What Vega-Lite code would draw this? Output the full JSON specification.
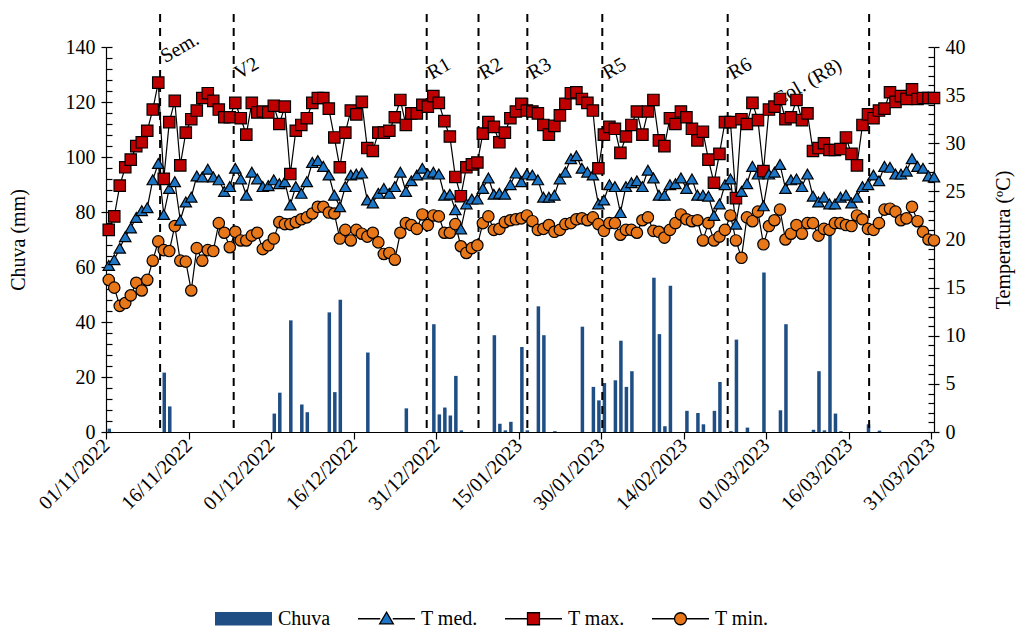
{
  "$schema": "https://vega.github.io/schema/vega-lite/v6.json",
  "width": 828,
  "height": 385,
  "autosize": "none",
  "padding": {"left": 106, "top": 47, "right": 93, "bottom": 199},
  "background": "white",
  "config": {
    "font": "Liberation Serif",
    "view": {"stroke": null},
    "axis": {"labelFont": "Liberation Serif", "titleFont": "Liberation Serif", "labelFontSize": 20, "titleFontSize": 20, "titleFontWeight": "normal", "labelColor": "black", "titleColor": "black", "domainColor": "black", "tickColor": "black", "grid": false, "domainWidth": 1.2, "tickWidth": 1.2},
    "legend": {"labelFont": "Liberation Serif", "labelFontSize": 20, "labelColor": "black"}
  },
  "datasets": {
    "clima": [
      {"d":"2022-11-01","chuva":1.2,"tmed":17.3,"tmax":21.0,"tmin":15.8},
      {"d":"2022-11-02","chuva":0,"tmed":17.9,"tmax":22.4,"tmin":15.0},
      {"d":"2022-11-03","chuva":0,"tmed":19.1,"tmax":25.6,"tmin":13.1},
      {"d":"2022-11-04","chuva":0,"tmed":20.3,"tmax":27.5,"tmin":13.4},
      {"d":"2022-11-05","chuva":0,"tmed":21.2,"tmax":28.3,"tmin":14.2},
      {"d":"2022-11-06","chuva":0,"tmed":22.3,"tmax":29.7,"tmin":15.5},
      {"d":"2022-11-07","chuva":0,"tmed":23.0,"tmax":30.1,"tmin":14.7},
      {"d":"2022-11-08","chuva":0,"tmed":23.3,"tmax":31.3,"tmin":15.8},
      {"d":"2022-11-09","chuva":0,"tmed":26.2,"tmax":33.5,"tmin":17.8},
      {"d":"2022-11-10","chuva":0,"tmed":27.9,"tmax":36.3,"tmin":19.8},
      {"d":"2022-11-11","chuva":21.6,"tmed":22.6,"tmax":26.3,"tmin":18.9},
      {"d":"2022-11-12","chuva":9.3,"tmed":25.3,"tmax":32.2,"tmin":18.8},
      {"d":"2022-11-13","chuva":0,"tmed":26.0,"tmax":34.4,"tmin":21.4},
      {"d":"2022-11-14","chuva":0,"tmed":22.0,"tmax":27.7,"tmin":17.8},
      {"d":"2022-11-15","chuva":0,"tmed":23.9,"tmax":31.1,"tmin":17.7},
      {"d":"2022-11-16","chuva":0,"tmed":24.4,"tmax":32.5,"tmin":14.7},
      {"d":"2022-11-17","chuva":0,"tmed":26.6,"tmax":33.4,"tmin":19.1},
      {"d":"2022-11-18","chuva":0,"tmed":26.5,"tmax":34.7,"tmin":17.8},
      {"d":"2022-11-19","chuva":0,"tmed":27.3,"tmax":35.2,"tmin":18.9},
      {"d":"2022-11-20","chuva":0,"tmed":26.5,"tmax":34.4,"tmin":18.8},
      {"d":"2022-11-21","chuva":0,"tmed":26.2,"tmax":33.5,"tmin":21.7},
      {"d":"2022-11-22","chuva":0,"tmed":25.0,"tmax":32.7,"tmin":20.7},
      {"d":"2022-11-23","chuva":0,"tmed":25.5,"tmax":32.7,"tmin":19.2},
      {"d":"2022-11-24","chuva":0,"tmed":27.4,"tmax":34.2,"tmin":20.8},
      {"d":"2022-11-25","chuva":0,"tmed":26.3,"tmax":32.6,"tmin":19.9},
      {"d":"2022-11-26","chuva":0,"tmed":24.6,"tmax":30.9,"tmin":19.9},
      {"d":"2022-11-27","chuva":0,"tmed":27.0,"tmax":34.2,"tmin":20.4},
      {"d":"2022-11-28","chuva":0,"tmed":26.3,"tmax":33.2,"tmin":20.7},
      {"d":"2022-11-29","chuva":0,"tmed":25.5,"tmax":33.3,"tmin":19.0},
      {"d":"2022-11-30","chuva":0,"tmed":25.6,"tmax":33.2,"tmin":19.4},
      {"d":"2022-12-01","chuva":6.7,"tmed":26.2,"tmax":33.9,"tmin":20.1},
      {"d":"2022-12-02","chuva":14.3,"tmed":25.8,"tmax":32.0,"tmin":21.8},
      {"d":"2022-12-03","chuva":0,"tmed":26.0,"tmax":33.8,"tmin":21.6},
      {"d":"2022-12-04","chuva":40.6,"tmed":23.6,"tmax":26.8,"tmin":21.6},
      {"d":"2022-12-05","chuva":0,"tmed":25.5,"tmax":31.3,"tmin":21.8},
      {"d":"2022-12-06","chuva":10.0,"tmed":24.8,"tmax":31.9,"tmin":22.1},
      {"d":"2022-12-07","chuva":7.2,"tmed":26.0,"tmax":32.6,"tmin":22.3},
      {"d":"2022-12-08","chuva":0,"tmed":28.0,"tmax":34.2,"tmin":22.7},
      {"d":"2022-12-09","chuva":0,"tmed":28.2,"tmax":34.7,"tmin":23.4},
      {"d":"2022-12-10","chuva":0,"tmed":27.6,"tmax":34.7,"tmin":23.4},
      {"d":"2022-12-11","chuva":43.5,"tmed":26.7,"tmax":33.6,"tmin":22.8},
      {"d":"2022-12-12","chuva":14.5,"tmed":24.6,"tmax":30.6,"tmin":22.7},
      {"d":"2022-12-13","chuva":48.1,"tmed":23.4,"tmax":27.5,"tmin":20.1},
      {"d":"2022-12-14","chuva":0,"tmed":25.5,"tmax":31.1,"tmin":21.0},
      {"d":"2022-12-15","chuva":0,"tmed":26.7,"tmax":33.4,"tmin":19.9},
      {"d":"2022-12-16","chuva":0,"tmed":26.8,"tmax":33.0,"tmin":21.0},
      {"d":"2022-12-17","chuva":0,"tmed":26.9,"tmax":34.3,"tmin":20.6},
      {"d":"2022-12-18","chuva":28.9,"tmed":24.1,"tmax":29.5,"tmin":20.3},
      {"d":"2022-12-19","chuva":0,"tmed":23.8,"tmax":29.2,"tmin":20.7},
      {"d":"2022-12-20","chuva":0,"tmed":24.8,"tmax":31.1,"tmin":19.7},
      {"d":"2022-12-21","chuva":0,"tmed":25.3,"tmax":31.1,"tmin":18.5},
      {"d":"2022-12-22","chuva":0,"tmed":24.8,"tmax":31.3,"tmin":18.6},
      {"d":"2022-12-23","chuva":0,"tmed":25.5,"tmax":32.7,"tmin":17.9},
      {"d":"2022-12-24","chuva":0,"tmed":27.0,"tmax":34.5,"tmin":20.7},
      {"d":"2022-12-25","chuva":8.6,"tmed":25.0,"tmax":31.9,"tmin":21.7},
      {"d":"2022-12-26","chuva":0,"tmed":26.1,"tmax":33.1,"tmin":21.5},
      {"d":"2022-12-27","chuva":0,"tmed":26.7,"tmax":33.1,"tmin":21.1},
      {"d":"2022-12-28","chuva":0,"tmed":27.4,"tmax":34.0,"tmin":22.6},
      {"d":"2022-12-29","chuva":0,"tmed":26.8,"tmax":33.8,"tmin":21.5},
      {"d":"2022-12-30","chuva":39.2,"tmed":27.0,"tmax":34.9,"tmin":22.5},
      {"d":"2022-12-31","chuva":6.4,"tmed":26.8,"tmax":34.2,"tmin":22.4},
      {"d":"2023-01-01","chuva":8.9,"tmed":24.6,"tmax":32.3,"tmin":20.7},
      {"d":"2023-01-02","chuva":6.0,"tmed":24.7,"tmax":30.7,"tmin":20.7},
      {"d":"2023-01-03","chuva":20.4,"tmed":23.1,"tmax":26.5,"tmin":21.6},
      {"d":"2023-01-04","chuva":0.6,"tmed":21.1,"tmax":24.5,"tmin":19.3},
      {"d":"2023-01-05","chuva":0,"tmed":23.7,"tmax":27.5,"tmin":18.6},
      {"d":"2023-01-06","chuva":0,"tmed":24.2,"tmax":27.8,"tmin":19.1},
      {"d":"2023-01-07","chuva":0,"tmed":24.2,"tmax":28.0,"tmin":19.4},
      {"d":"2023-01-08","chuva":0,"tmed":25.3,"tmax":31.0,"tmin":21.7},
      {"d":"2023-01-09","chuva":0,"tmed":26.4,"tmax":32.2,"tmin":22.4},
      {"d":"2023-01-10","chuva":35.2,"tmed":24.7,"tmax":31.7,"tmin":21.0},
      {"d":"2023-01-11","chuva":3.0,"tmed":24.8,"tmax":30.1,"tmin":21.1},
      {"d":"2023-01-12","chuva":0.6,"tmed":24.7,"tmax":31.1,"tmin":21.8},
      {"d":"2023-01-13","chuva":3.7,"tmed":25.7,"tmax":32.6,"tmin":22.0},
      {"d":"2023-01-14","chuva":0,"tmed":26.9,"tmax":33.3,"tmin":22.1},
      {"d":"2023-01-15","chuva":30.9,"tmed":26.0,"tmax":34.1,"tmin":22.2},
      {"d":"2023-01-16","chuva":0.6,"tmed":26.8,"tmax":33.4,"tmin":22.5},
      {"d":"2023-01-17","chuva":0,"tmed":26.7,"tmax":33.3,"tmin":21.9},
      {"d":"2023-01-18","chuva":45.7,"tmed":26.2,"tmax":33.1,"tmin":21.0},
      {"d":"2023-01-19","chuva":35.2,"tmed":24.4,"tmax":31.9,"tmin":21.1},
      {"d":"2023-01-20","chuva":0,"tmed":24.4,"tmax":30.9,"tmin":21.5},
      {"d":"2023-01-21","chuva":0.3,"tmed":24.6,"tmax":31.8,"tmin":20.8},
      {"d":"2023-01-22","chuva":0,"tmed":26.3,"tmax":32.9,"tmin":21.0},
      {"d":"2023-01-23","chuva":0,"tmed":27.0,"tmax":34.1,"tmin":21.6},
      {"d":"2023-01-24","chuva":0,"tmed":28.4,"tmax":35.2,"tmin":21.7},
      {"d":"2023-01-25","chuva":0,"tmed":28.7,"tmax":35.3,"tmin":22.1},
      {"d":"2023-01-26","chuva":38.3,"tmed":27.4,"tmax":34.6,"tmin":22.2},
      {"d":"2023-01-27","chuva":0,"tmed":27.0,"tmax":34.2,"tmin":22.0},
      {"d":"2023-01-28","chuva":16.4,"tmed":26.7,"tmax":33.4,"tmin":22.3},
      {"d":"2023-01-29","chuva":11.5,"tmed":23.7,"tmax":27.4,"tmin":21.6},
      {"d":"2023-01-30","chuva":17.8,"tmed":24.1,"tmax":30.9,"tmin":20.9},
      {"d":"2023-01-31","chuva":0,"tmed":25.7,"tmax":31.7,"tmin":21.7},
      {"d":"2023-02-01","chuva":18.8,"tmed":25.5,"tmax":31.5,"tmin":21.7},
      {"d":"2023-02-02","chuva":33.2,"tmed":22.8,"tmax":29.0,"tmin":20.5},
      {"d":"2023-02-03","chuva":16.4,"tmed":25.5,"tmax":30.7,"tmin":21.0},
      {"d":"2023-02-04","chuva":22.1,"tmed":25.9,"tmax":31.9,"tmin":21.0},
      {"d":"2023-02-05","chuva":0,"tmed":26.1,"tmax":33.3,"tmin":20.7},
      {"d":"2023-02-06","chuva":0,"tmed":25.5,"tmax":30.9,"tmin":22.0},
      {"d":"2023-02-07","chuva":0,"tmed":27.2,"tmax":33.3,"tmin":22.3},
      {"d":"2023-02-08","chuva":56.1,"tmed":26.4,"tmax":34.5,"tmin":20.9},
      {"d":"2023-02-09","chuva":35.6,"tmed":24.6,"tmax":30.3,"tmin":20.8},
      {"d":"2023-02-10","chuva":2.1,"tmed":24.6,"tmax":29.7,"tmin":20.2},
      {"d":"2023-02-11","chuva":53.2,"tmed":25.7,"tmax":32.6,"tmin":21.0},
      {"d":"2023-02-12","chuva":0,"tmed":25.8,"tmax":32.0,"tmin":21.7},
      {"d":"2023-02-13","chuva":0,"tmed":26.4,"tmax":33.3,"tmin":22.6},
      {"d":"2023-02-14","chuva":7.7,"tmed":25.3,"tmax":32.7,"tmin":22.1},
      {"d":"2023-02-15","chuva":0,"tmed":26.3,"tmax":31.5,"tmin":21.9},
      {"d":"2023-02-16","chuva":6.9,"tmed":24.6,"tmax":30.3,"tmin":22.0},
      {"d":"2023-02-17","chuva":2.8,"tmed":24.6,"tmax":31.2,"tmin":19.9},
      {"d":"2023-02-18","chuva":0,"tmed":24.5,"tmax":28.3,"tmin":21.7},
      {"d":"2023-02-19","chuva":7.7,"tmed":22.5,"tmax":25.9,"tmin":19.9},
      {"d":"2023-02-20","chuva":18.2,"tmed":23.7,"tmax":28.9,"tmin":20.3},
      {"d":"2023-02-21","chuva":0,"tmed":25.7,"tmax":32.2,"tmin":21.0},
      {"d":"2023-02-22","chuva":0.3,"tmed":26.3,"tmax":32.2,"tmin":22.5},
      {"d":"2023-02-23","chuva":33.6,"tmed":21.6,"tmax":24.3,"tmin":19.9},
      {"d":"2023-02-24","chuva":0,"tmed":25.0,"tmax":32.5,"tmin":18.1},
      {"d":"2023-02-25","chuva":1.6,"tmed":25.8,"tmax":32.0,"tmin":22.3},
      {"d":"2023-02-26","chuva":0,"tmed":27.6,"tmax":34.2,"tmin":21.9},
      {"d":"2023-02-27","chuva":0,"tmed":26.8,"tmax":32.4,"tmin":22.9},
      {"d":"2023-02-28","chuva":58.0,"tmed":23.5,"tmax":27.1,"tmin":19.5},
      {"d":"2023-03-01","chuva":0,"tmed":26.8,"tmax":33.5,"tmin":21.4},
      {"d":"2023-03-02","chuva":0,"tmed":27.0,"tmax":33.8,"tmin":22.0},
      {"d":"2023-03-03","chuva":7.9,"tmed":27.8,"tmax":34.6,"tmin":23.1},
      {"d":"2023-03-04","chuva":39.2,"tmed":25.3,"tmax":32.5,"tmin":20.0},
      {"d":"2023-03-05","chuva":0,"tmed":26.2,"tmax":32.7,"tmin":20.6},
      {"d":"2023-03-06","chuva":0,"tmed":26.3,"tmax":34.5,"tmin":21.5},
      {"d":"2023-03-07","chuva":0,"tmed":25.5,"tmax":32.4,"tmin":20.6},
      {"d":"2023-03-08","chuva":0,"tmed":26.8,"tmax":33.1,"tmin":21.7},
      {"d":"2023-03-09","chuva":0.8,"tmed":24.5,"tmax":29.2,"tmin":21.7},
      {"d":"2023-03-10","chuva":22.1,"tmed":23.9,"tmax":29.5,"tmin":20.4},
      {"d":"2023-03-11","chuva":0.6,"tmed":24.4,"tmax":30.0,"tmin":21.1},
      {"d":"2023-03-12","chuva":75.0,"tmed":23.7,"tmax":29.3,"tmin":21.0},
      {"d":"2023-03-13","chuva":6.7,"tmed":23.7,"tmax":29.3,"tmin":21.7},
      {"d":"2023-03-14","chuva":0.3,"tmed":24.4,"tmax":29.4,"tmin":21.7},
      {"d":"2023-03-15","chuva":0,"tmed":24.6,"tmax":30.6,"tmin":21.5},
      {"d":"2023-03-16","chuva":0,"tmed":23.8,"tmax":28.9,"tmin":21.4},
      {"d":"2023-03-17","chuva":0,"tmed":24.4,"tmax":27.7,"tmin":22.5},
      {"d":"2023-03-18","chuva":0,"tmed":25.5,"tmax":31.9,"tmin":22.1},
      {"d":"2023-03-19","chuva":2.8,"tmed":25.7,"tmax":33.0,"tmin":21.1},
      {"d":"2023-03-20","chuva":0,"tmed":26.7,"tmax":32.6,"tmin":21.0},
      {"d":"2023-03-21","chuva":0.5,"tmed":26.1,"tmax":33.4,"tmin":21.7},
      {"d":"2023-03-22","chuva":0,"tmed":27.6,"tmax":33.6,"tmin":23.1},
      {"d":"2023-03-23","chuva":0,"tmed":27.5,"tmax":35.3,"tmin":23.2},
      {"d":"2023-03-24","chuva":0,"tmed":26.8,"tmax":34.3,"tmin":22.9},
      {"d":"2023-03-25","chuva":0,"tmed":26.8,"tmax":34.9,"tmin":22.0},
      {"d":"2023-03-26","chuva":0,"tmed":27.1,"tmax":34.6,"tmin":22.2},
      {"d":"2023-03-27","chuva":0,"tmed":28.4,"tmax":35.6,"tmin":23.4},
      {"d":"2023-03-28","chuva":0,"tmed":27.6,"tmax":34.6,"tmin":21.9},
      {"d":"2023-03-29","chuva":0,"tmed":27.4,"tmax":34.7,"tmin":20.8},
      {"d":"2023-03-30","chuva":0,"tmed":26.6,"tmax":34.7,"tmin":20.0},
      {"d":"2023-03-31","chuva":0,"tmed":26.5,"tmax":34.7,"tmin":19.9}
    ],
    "fases": [
      {"fase":"Sem.","quando":"2022-11-10T20:00:00Z"},
      {"fase":"V2","quando":"2022-11-24T05:00:00Z"},
      {"fase":"R1","quando":"2022-12-29T07:00:00Z"},
      {"fase":"R2","quando":"2023-01-07T17:00:00Z"},
      {"fase":"R3","quando":"2023-01-16T14:00:00Z"},
      {"fase":"R5","quando":"2023-01-30T05:00:00Z"},
      {"fase":"R6","quando":"2023-02-22T00:00:00Z"},
      {"fase":"Col. (R8)","quando":"2023-03-19T17:00:00Z"}
    ]
  },
  "data": {"name": "clima"},
  "layer": [
    {
      "resolve": {"axis": {"y": "independent"}},
      "layer": [
        {
          "transform": [{"fold": ["chuva"], "as": ["serie", "valor"]}],
          "mark": {"type": "bar", "width": {"band": 0.82}},
          "encoding": {
            "x": {
              "field": "d", "type": "temporal", "timeUnit": "utcyearmonthdate",
              "scale": {"type": "utc", "domain": [{"year": 2022, "month": 11, "date": 1, "utc": true}, {"year": 2023, "month": 3, "date": 31, "hours": 12, "utc": true}]},
              "axis": {
                "title": null,
                "values": [
                  {"year": 2022, "month": 11, "date": 1, "utc": true},
                  {"year": 2022, "month": 11, "date": 16, "utc": true},
                  {"year": 2022, "month": 12, "date": 1, "utc": true},
                  {"year": 2022, "month": 12, "date": 16, "utc": true},
                  {"year": 2022, "month": 12, "date": 31, "utc": true},
                  {"year": 2023, "month": 1, "date": 15, "utc": true},
                  {"year": 2023, "month": 1, "date": 30, "utc": true},
                  {"year": 2023, "month": 2, "date": 14, "utc": true},
                  {"year": 2023, "month": 3, "date": 1, "utc": true},
                  {"year": 2023, "month": 3, "date": 16, "utc": true},
                  {"year": 2023, "month": 3, "date": 31, "utc": true}
                ],
                "labelExpr": "utcFormat(datum.value, '%d/%m/%Y')",
                "labelAngle": -45, "labelAlign": "right", "labelBaseline": "middle",
                "tickSize": 7, "labelPadding": 3, "labelOverlap": false, "labelBound": false, "labelFlush": false
              }
            },
            "y": {
              "field": "valor", "type": "quantitative",
              "scale": {"domain": [0, 140]},
              "axis": {
                "orient": "left", "title": "Chuva (mm)", "titlePadding": 37,
                "values": [0, 20, 40, 60, 80, 100, 120, 140],
                "tickSize": 5, "labelPadding": 6, "labelOverlap": false
              }
            },
            "color": {
              "field": "serie", "type": "nominal",
              "scale": {"domain": ["chuva", "tmed", "tmax", "tmin"], "range": ["#1F4E85", "#1C75C5", "#C00000", "#E8771A"]},
              "legend": {
                "orient": "none", "legendX": 108, "legendY": 542, "direction": "horizontal", "title": null,
                "padding": 0, "symbolSize": 3249, "symbolStrokeWidth": 1.3, "symbolOpacity": 1,
                "columnPadding": 24, "labelOffset": 5,
                "labelExpr": "datum.label == 'chuva' ? 'Chuva' : datum.label == 'tmed' ? 'T med.' : datum.label == 'tmax' ? 'T max.' : 'T min.'",
                "encode": {
                  "symbols": {
                    "update": {
                      "shape": {"signal": "datum.value == 'chuva' ? 'M-1,-0.24H1V0.24H-1Z' : datum.value == 'tmed' ? 'M-1,0H-0.22M0.22,0H1M0,-0.23L0.24,0.18L-0.24,0.18Z' : datum.value == 'tmax' ? 'M-1,0H-0.21M0.21,0H1M-0.21,-0.21H0.21V0.21H-0.21Z' : 'M-1,0H-0.21M0.21,0H1M0.21,0A0.21,0.21,0,1,1,-0.21,0A0.21,0.21,0,1,1,0.21,0Z'"},
                      "stroke": {"signal": "datum.value == 'chuva' ? 'transparent' : 'black'"},
                      "strokeWidth": {"value": 1.3},
                      "opacity": {"value": 1}
                    }
                  }
                }
              }
            }
          }
        },
        {
          "data": {"name": "fases"},
          "mark": {"type": "rule", "color": "black", "strokeWidth": 2, "strokeDash": [8, 6]},
          "encoding": {
            "x": {"field": "quando", "type": "temporal", "scale": {"type": "utc"}},
            "y": {"datum": 152, "axis": {"orient": "left", "title": null, "labels": false, "domain": false, "tickSize": -6, "values": [0,4,8,12,16,20,24,28,32,36,40,44,48,52,56,60,64,68,72,76,80,84,88,92,96,100,104,108,112,116,120,124,128,132,136,140]}},
            "y2": {"datum": 0}
          }
        },
        {
          "data": {"name": "fases"},
          "transform": [{"filter": "datum.fase != 'Sem.' && datum.fase != 'Col. (R8)'"}],
          "mark": {"type": "text", "angle": 330, "align": "left", "baseline": "alphabetic", "dx": 6, "fontSize": 20, "font": "Liberation Serif", "color": "black"},
          "encoding": {
            "x": {"field": "quando", "type": "temporal", "scale": {"type": "utc"}},
            "y": {"datum": 127, "axis": null},
            "text": {"field": "fase"}
          }
        },
        {
          "data": {"name": "fases"},
          "transform": [{"filter": "datum.fase == 'Sem.'"}],
          "mark": {"type": "text", "angle": 330, "align": "left", "baseline": "alphabetic", "dx": 6, "fontSize": 20, "font": "Liberation Serif", "color": "black"},
          "encoding": {
            "x": {"field": "quando", "type": "temporal", "scale": {"type": "utc"}},
            "y": {"datum": 133, "axis": null},
            "text": {"field": "fase"}
          }
        },
        {
          "data": {"name": "fases"},
          "transform": [{"filter": "datum.fase == 'Col. (R8)'"}],
          "mark": {"type": "text", "angle": 330, "align": "right", "baseline": "alphabetic", "dx": -30, "fontSize": 20, "font": "Liberation Serif", "color": "black"},
          "encoding": {
            "x": {"field": "quando", "type": "temporal", "scale": {"type": "utc"}},
            "y": {"datum": 137.5, "axis": null},
            "text": {"field": "fase"}
          }
        }
      ]
    },
    {
      "transform": [{"fold": ["tmed", "tmax", "tmin"], "as": ["serie", "valor"]}],
      "resolve": {"axis": {"y": "independent"}},
      "layer": [
        {
          "mark": {"type": "line", "color": "black", "strokeWidth": 1.2},
          "encoding": {
            "x": {"field": "d", "type": "temporal", "timeUnit": "utcyearmonthdate", "bandPosition": 0.5, "scale": {"type": "utc"}},
            "y": {
              "field": "valor", "type": "quantitative",
              "scale": {"domain": [0, 40]},
              "axis": {
                "orient": "right", "title": "Temperatura (ºC)", "titleAngle": 270, "titlePadding": 48,
                "values": [0, 5, 10, 15, 20, 25, 30, 35, 40],
                "tickSize": 5, "labelPadding": 6, "labelOverlap": false
              }
            },
            "detail": {"field": "serie"}
          }
        },
        {
          "mark": {"type": "point", "filled": true, "size": 130, "stroke": "black", "strokeWidth": 1.2, "opacity": 1},
          "encoding": {
            "x": {"field": "d", "type": "temporal", "timeUnit": "utcyearmonthdate", "bandPosition": 0.5, "scale": {"type": "utc"}},
            "y": {"field": "valor", "type": "quantitative", "axis": {"orient": "right", "title": null, "labels": false, "domain": false, "tickSize": -6, "values": [0,1,2,3,4,5,6,7,8,9,10,11,12,13,14,15,16,17,18,19,20,21,22,23,24,25,26,27,28,29,30,31,32,33,34,35,36,37,38,39,40]}},
            "color": {"field": "serie", "type": "nominal"},
            "shape": {"field": "serie", "type": "nominal", "scale": {"domain": ["tmed", "tmax", "tmin"], "range": ["triangle-up", "square", "circle"]}, "legend": null}
          }
        }
      ]
    }
  ],
  "resolve": {"scale": {"y": "independent"}}
}
